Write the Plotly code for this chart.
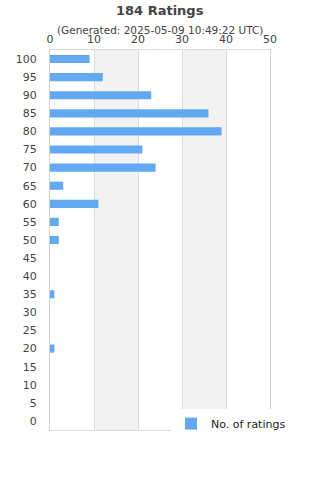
import plotly.graph_objects as go

categories = [str(v) for v in range(0, 101, 5)]
counts = [0, 0, 0, 0, 1, 0, 0, 1, 0, 0, 2, 2, 11, 3, 24, 21, 39, 36, 23, 12, 9]
x_ticks = [0, 10, 20, 30, 40, 50]

title_text = "184 Ratings"
subtitle_text = "(Generated: 2025-05-09 10:49:22 UTC)"
series_name = "No. of ratings"

FONT = "DejaVu Sans"
TXT = "#444444"

fig = go.Figure()
fig.add_trace(go.Bar(
    x=counts, y=categories, orientation="h", name=series_name,
    marker=dict(color="#62a9f1", line=dict(width=0)),
    width=0.45, showlegend=True,
))

shapes = []
for a, b in [(10, 20), (30, 40)]:
    shapes.append(dict(type="rect", xref="x", yref="paper", x0=a, x1=b, y0=0, y1=1,
                       fillcolor="#f2f2f2", line=dict(width=0), layer="below"))

fig.update_layout(
    width=320, height=480,
    margin=dict(l=50, r=50, t=50, b=50),
    paper_bgcolor="white", plot_bgcolor="white",
    font=dict(family=FONT, color=TXT, size=11),
    shapes=shapes,
    bargap=0.5,
    xaxis=dict(side="top", range=[0, 50], tickvals=x_ticks, showgrid=True,
               gridcolor="#dddddd", gridwidth=1, zeroline=False,
               showline=True, mirror=True, linecolor="#dddddd", linewidth=1,
               tickfont=dict(size=11, color=TXT), ticks="", ticklabelstandoff=2,
               fixedrange=True),
    yaxis=dict(type="category", categoryorder="array", categoryarray=categories,
               showgrid=False, showline=True, mirror=True, linecolor="#d0d0d0", linewidth=1,
               tickfont=dict(size=11, color=TXT), ticks="", ticklabelstandoff=10,
               fixedrange=True),
    legend=dict(x=0.55, y=0.055, xanchor="left", yanchor="top", bgcolor="white",
                font=dict(size=11, color="#222222"), orientation="h"),
    annotations=[
        dict(text="<b>" + title_text + "</b>", x=0.5, y=1, xref="paper", yref="paper",
             xanchor="center", yanchor="top", showarrow=False,
             font=dict(size=13, color=TXT), yshift=50 - 1),
        dict(text=subtitle_text, x=0.5, y=1, xref="paper", yref="paper",
             xanchor="center", yanchor="top", showarrow=False,
             font=dict(size=10.5, color=TXT), yshift=50 - 22),
    ],
)

fig.write_html("out.html")
